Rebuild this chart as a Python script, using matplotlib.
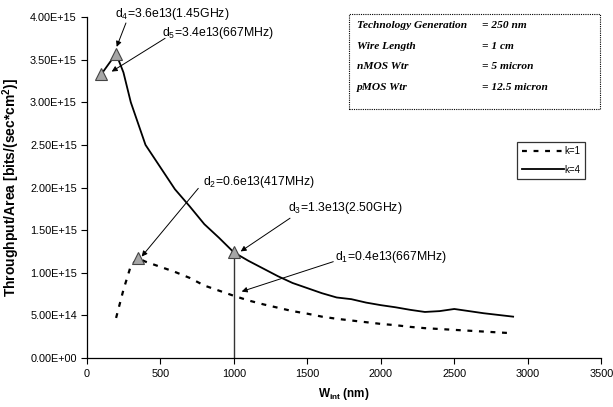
import matplotlib
matplotlib.use("Agg")
import matplotlib.pyplot as plt
from matplotlib.patches import Rectangle

plt.rcParams['font.family'] = ['Liberation Sans', 'DejaVu Sans']
plt.rcParams['mathtext.fontset'] = 'custom'
plt.rcParams['mathtext.rm'] = 'Liberation Sans'
plt.rcParams['mathtext.bf'] = 'Liberation Sans:bold'

# ---- data ----
w_k4 = [100, 200, 250, 300, 400, 500, 600, 700, 800, 900, 1000, 1100, 1200, 1300,
        1400, 1500, 1600, 1700, 1800, 1900, 2000, 2100, 2200, 2300, 2400, 2500,
        2600, 2700, 2800, 2900]
t_k4 = [3.33e15, 3.57e15, 3.35e15, 3.00e15, 2.50e15, 2.24e15, 1.98e15, 1.78e15,
        1.57e15, 1.41e15, 1.24e15, 1.14e15, 1.05e15, 0.96e15, 0.88e15, 0.82e15,
        0.76e15, 0.71e15, 0.69e15, 0.65e15, 0.62e15, 0.595e15, 0.565e15, 0.54e15,
        0.55e15, 0.575e15, 0.55e15, 0.525e15, 0.505e15, 0.485e15]

w_k1 = [200, 250, 300, 350, 400, 500, 600, 700, 800, 900, 1000, 1100, 1200, 1300,
        1400, 1500, 1600, 1700, 1800, 1900, 2000, 2100, 2200, 2300, 2400, 2500,
        2600, 2700, 2800, 2900]
t_k1 = [0.47e15, 0.80e15, 1.08e15, 1.17e15, 1.13e15, 1.07e15, 1.01e15, 0.94e15,
        0.85e15, 0.79e15, 0.73e15, 0.675e15, 0.63e15, 0.59e15, 0.55e15, 0.52e15,
        0.485e15, 0.46e15, 0.44e15, 0.42e15, 0.40e15, 0.385e15, 0.365e15, 0.35e15,
        0.34e15, 0.33e15, 0.32e15, 0.31e15, 0.30e15, 0.29e15]

marker_w = [100, 200, 350, 1000]
marker_t = [3.33e15, 3.57e15, 1.17e15, 1.24e15]

ann_labels = [r"d$_4$=3.6e13(1.45GHz)", r"d$_5$=3.4e13(667MHz)",
              r"d$_2$=0.6e13(417MHz)", r"d$_3$=1.3e13(2.50GHz)",
              r"d$_1$=0.4e13(667MHz)"]
ann_tip = [(204, 3.65e15), (170, 3.36e15), (374, 1.19e15), (1047, 1.25e15), (1054, 0.78e15)]
ann_text = [(193, 4.04e15), (510, 3.81e15), (793, 2.07e15), (1371, 1.76e15), (1689, 1.19e15)]
ann_start = [(267, 3.93e15), (533, 3.75e15), (759, 1.99e15), (1383, 1.64e15), (1677, 1.13e15)]

yticks = [0, 0.5e15, 1.0e15, 1.5e15, 2.0e15, 2.5e15, 3.0e15, 3.5e15, 4.0e15]
ytick_labels = ["0.00E+00", "5.00E+14", "1.00E+15", "1.50E+15", "2.00E+15",
                "2.50E+15", "3.00E+15", "3.50E+15", "4.00E+15"]
xticks = [0, 500, 1000, 1500, 2000, 2500, 3000, 3500]

info_keys = ["Technology Generation", "Wire Length", "nMOS Wtr", "pMOS Wtr"]
info_vals = ["= 250 nm", "= 1 cm", "= 5 micron", "= 12.5 micron"]

# ---- figure ----
fig = plt.figure(figsize=(6.13, 4.07), dpi=100)
ax = fig.add_axes([0.1414, 0.1204, 0.8396, 0.8378])

ax.plot(w_k1, t_k1, color='black', lw=1.6, ls=(0, (2.2, 3.0)), label='k=1')
ax.plot(w_k4, t_k4, color='black', lw=1.3, label='k=4')
ax.plot([1000, 1000], [0, 1.24e15], color='#333333', lw=1.0)
ax.plot(marker_w, marker_t, ls='none', marker='^', ms=8, mfc='#a6a6a6',
        mec='#444444', mew=0.8, zorder=5)

for lab, tip, tpos, st in zip(ann_labels, ann_tip, ann_text, ann_start):
    ax.text(tpos[0], tpos[1], lab, fontsize=8.8, ha='left', va='center')
    ax.annotate('', xy=tip, xytext=st,
                arrowprops=dict(arrowstyle='-|>', color='black', lw=0.7,
                                mutation_scale=8, shrinkA=0, shrinkB=0))

ax.set_xlim(0, 3500)
ax.set_ylim(0, 4.0e15)
ax.set_xticks(xticks)
ax.set_xticklabels([str(x) for x in xticks], fontsize=7.8)
ax.set_yticks(yticks)
ax.set_yticklabels(ytick_labels, fontsize=7.8)
ax.tick_params(direction='out', length=4, width=0.8, pad=3)
ax.tick_params(axis='x', pad=4)
for s in ['top', 'right']:
    ax.spines[s].set_visible(False)
for s in ['left', 'bottom']:
    ax.spines[s].set_linewidth(0.9)

ax.set_xlabel(r"W$_{\mathbf{int}}$ (nm)", fontsize=8.5, fontweight='bold', labelpad=5)
ax.set_ylabel(r"Throughput/Area [bits/(sec*cm$^{\mathbf{2}}$)]", fontsize=10,
              fontweight='bold', labelpad=6)

# legend
leg = ax.legend(loc='upper left', bbox_to_anchor=(0.844, 0.651), bbox_transform=fig.transFigure,
                fontsize=7, frameon=True, fancybox=False, handlelength=4.3,
                handletextpad=0.1, borderpad=0.45, labelspacing=0.85, borderaxespad=0)
leg.get_frame().set_edgecolor('black')
leg.get_frame().set_linewidth(0.9)

# info box
box = Rectangle((0.570, 0.7315), 0.409, 0.2345, transform=fig.transFigure,
                fill=False, ec='black', lw=0.8, ls=(0, (1, 1)))
fig.patches.append(box)
ys = [1 - 25 / 407, 1 - 46.7 / 407, 1 - 66.7 / 407, 1 - 87.3 / 407]
for k, v, y in zip(info_keys, info_vals, ys):
    fig.text(356.7 / 613, y, k, fontsize=8.2, family='Liberation Serif',
             style='italic', weight='bold', va='center')
    fig.text(481.7 / 613, y, v, fontsize=8.2, family='Liberation Serif',
             style='italic', weight='bold', va='center')

fig.savefig('out.png', dpi=100)
